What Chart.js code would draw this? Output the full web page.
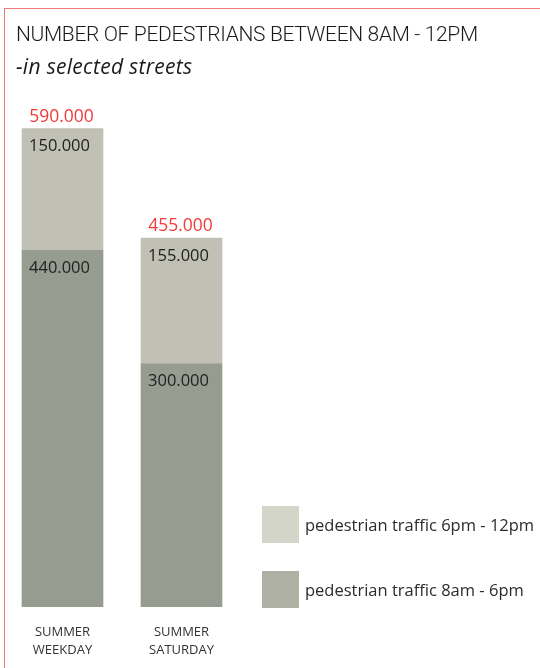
<!DOCTYPE html>
<html>
<head>
<meta charset="utf-8">
<script src="https://cdn.jsdelivr.net/npm/chart.js@4"></script>
<style>
  body { margin: 0; background: #fff; }
  #wrap { position: relative; width: 540px; height: 668px; overflow: hidden; font-family: "Open Sans", sans-serif; }
  #frame { position: absolute; left: 4px; top: 8px; width: 600px; height: 700px; border: 1px solid #f07a7a; }
  #chart { position: absolute; left: 0; top: 0; }
  #title { position: absolute; left: 16px; top: 21px; font-family: Roboto, sans-serif; font-weight: 300; font-size: 21px; letter-spacing: -0.35px; line-height: 26px; color: #1a1a1a; white-space: nowrap; }
  #subtitle { position: absolute; left: 16px; top: 53px; font-style: italic; font-size: 21px; letter-spacing: 0.3px; line-height: 26px; color: #1a1a1a; white-space: nowrap; }
  #legend { position: absolute; left: 262px; top: 506px; }
  .item { display: flex; align-items: center; height: 37px; margin-bottom: 28px; }
  .swatch { width: 37px; height: 37px; margin-right: 6px; }
  .item span { font-size: 16.5px; color: #2b2b2b; }
</style>
</head>
<body>
<div id="wrap">
  <div id="frame"></div>
  <canvas id="chart" width="540" height="668"></canvas>
  <div id="title">NUMBER OF PEDESTRIANS BETWEEN 8AM - 12PM</div>
  <div id="subtitle">-in selected streets</div>
  <div id="legend"></div>
</div>
<script>
const categorias = [["SUMMER", "WEEKDAY"], ["SUMMER", "SATURDAY"]];
const traficoDia = [440000, 300000];    // 8am - 6pm
const traficoNoche = [150000, 155000];  // 6pm - 12pm
const etiquetasSerie = ["pedestrian traffic 6pm - 12pm", "pedestrian traffic 8am - 6pm"];

const totales = traficoDia.map((v, i) => v + traficoNoche[i]);

// 440000 -> "440.000"
function formato(v) {
  return v.toLocaleString("en-US").replace(/,/g, ".");
}

// Etiquetas de valor dentro de cada segmento y total encima de la barra
const etiquetasValor = {
  id: "etiquetasValor",
  afterDatasetsDraw(chart) {
    const ctx = chart.ctx;
    ctx.save();
    ctx.textAlign = "center";
    ctx.textBaseline = "middle";
    ctx.font = "16.5px 'Open Sans', sans-serif";
    chart.data.datasets.forEach((ds, di) => {
      chart.getDatasetMeta(di).data.forEach((bar, i) => {
        ctx.fillStyle = "#222";
        ctx.fillText(formato(ds.data[i]), bar.x - 3, bar.y + 18);
      });
    });
    const top = chart.getDatasetMeta(1).data;
    ctx.font = "17.5px 'Open Sans', sans-serif";
    ctx.fillStyle = "#f23a3a";
    top.forEach((bar, i) => {
      ctx.fillText(formato(totales[i]), bar.x - 1, bar.y - 12);
    });
    ctx.restore();
  },
};

const grafico = new Chart(document.getElementById("chart"), {
  type: "bar",
  data: {
    labels: categorias,
    datasets: [
      {
        label: etiquetasSerie[1],
        data: traficoDia,
        backgroundColor: "#979c90",
        legendColor: "#b0b1a5",
      },
      {
        label: etiquetasSerie[0],
        data: traficoNoche,
        backgroundColor: "#c0c1b4",
        legendColor: "#d3d5c9",
      },
    ],
  },
  options: {
    responsive: false,
    animation: false,
    barThickness: 81,
    layout: { padding: { left: 3, right: 299, top: 80, bottom: 0 } },
    plugins: { legend: { display: false }, tooltip: { enabled: false } },
    scales: {
      x: {
        stacked: true,
        grid: { display: false },
        border: { display: false },
        ticks: {
          color: "#333",
          padding: 8,
          font: { family: "'Open Sans', sans-serif", size: 13, lineHeight: 1.4 },
        },
        afterFit(scale) {
          scale.height = 61;
        },
      },
      y: {
        stacked: true,
        display: false,
        min: 0,
        max: 650000,
      },
    },
  },
  plugins: [etiquetasValor],
});

// Leyenda a la derecha, franja clara arriba
const leyenda = document.getElementById("legend");
grafico.data.datasets.slice().reverse().forEach((ds) => {
  const item = document.createElement("div");
  item.className = "item";
  const sw = document.createElement("div");
  sw.className = "swatch";
  sw.style.background = ds.legendColor;
  const txt = document.createElement("span");
  txt.innerText = ds.label;
  item.appendChild(sw);
  item.appendChild(txt);
  leyenda.appendChild(item);
});
</script>
</body>
</html>
